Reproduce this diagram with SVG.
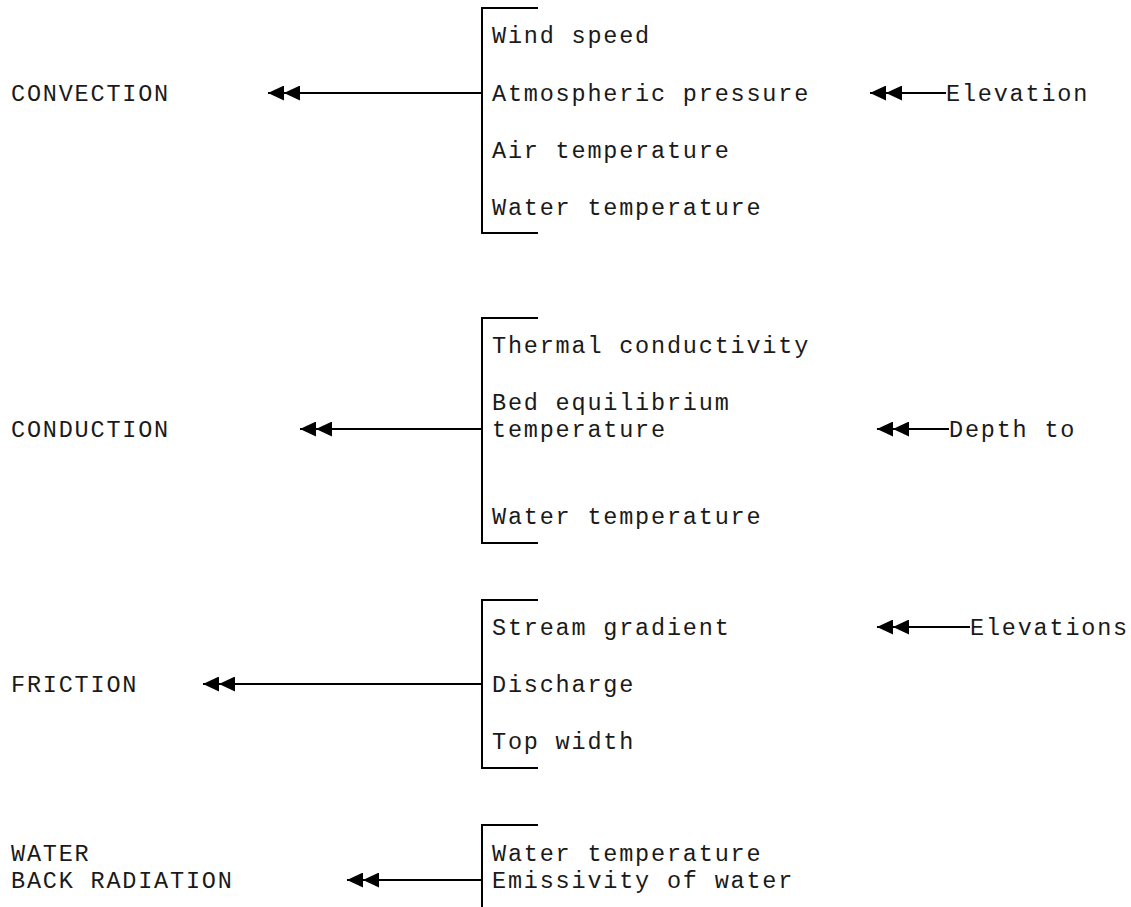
<svg xmlns="http://www.w3.org/2000/svg" width="1131" height="907" viewBox="0 0 1131 907">
<defs>
<style>
text{font-family:"Liberation Mono","DejaVu Sans Mono",monospace;font-size:23.5px;letter-spacing:1.8px;fill:#1a1a1a}
.ln{stroke:#000;stroke-width:2;fill:none}
.ar{stroke:#000;stroke-width:2;fill:none;marker-end:url(#dbl)}
</style>
<marker id="dbl" markerUnits="userSpaceOnUse" markerWidth="32" markerHeight="15" viewBox="0 0 32 15" refX="32" refY="7.5" orient="auto">
<polygon points="0,0 16,7.5 0,15" fill="#000"/>
<polygon points="16,0 32,7.5 16,15" fill="#000"/>
</marker>
</defs>
<rect width="1131" height="907" fill="#fff"/>
<g id="convection">
<text x="11" y="101">CONVECTION</text>
</g>
<g id="convection-factors">
<path class="ln" d="M538,8 H482 V233 H538"/>
<text x="492" y="43">Wind speed</text>
<text x="492" y="101">Atmospheric pressure</text>
<text x="492" y="158">Air temperature</text>
<text x="492" y="215">Water temperature</text>
</g>
<g id="elevation"><text x="946" y="101">Elevation</text></g>
<g id="conduction">
<text x="11" y="437">CONDUCTION</text>
</g>
<g id="conduction-factors">
<path class="ln" d="M538,318 H482 V543 H538"/>
<text x="492" y="353">Thermal conductivity</text>
<text x="492" y="410">Bed equilibrium</text>
<text x="492" y="437">temperature</text>
<text x="492" y="524">Water temperature</text>
</g>
<g id="depth"><text x="949" y="437">Depth to</text></g>
<g id="friction">
<text x="11" y="692">FRICTION</text>
</g>
<g id="friction-factors">
<path class="ln" d="M538,600 H482 V768 H538"/>
<text x="492" y="635">Stream gradient</text>
<text x="492" y="692">Discharge</text>
<text x="492" y="749">Top width</text>
</g>
<g id="elevations"><text x="970" y="635">Elevations</text></g>
<g id="back-radiation">
<text x="11" y="861">WATER</text>
<text x="11" y="888">BACK RADIATION</text>
</g>
<g id="back-radiation-factors">
<path class="ln" d="M538,825 H482 V907"/>
<text x="492" y="861">Water temperature</text>
<text x="492" y="888">Emissivity of water</text>
</g>
<g id="connectors">
<line class="ar" x1="482" y1="93" x2="268" y2="93"/>
<line class="ar" x1="946" y1="93" x2="870" y2="93"/>
<line class="ar" x1="482" y1="429" x2="300" y2="429"/>
<line class="ar" x1="949" y1="429" x2="877" y2="429"/>
<line class="ar" x1="482" y1="684" x2="203" y2="684"/>
<line class="ar" x1="970" y1="627" x2="877" y2="627"/>
<line class="ar" x1="482" y1="880" x2="347" y2="880"/>
</g>
</svg>
